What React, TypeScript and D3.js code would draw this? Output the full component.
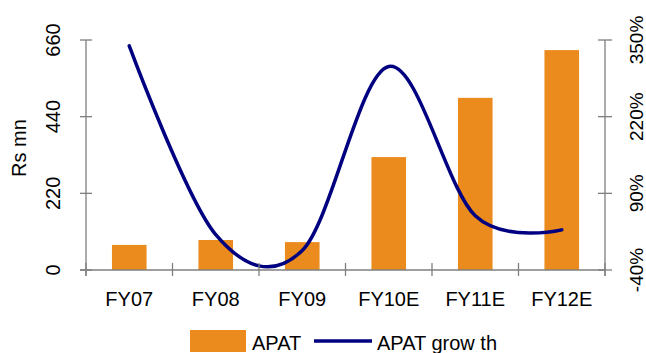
import React from "react";
import * as d3 from "d3";

const categories = ["FY07", "FY08", "FY09", "FY10E", "FY11E", "FY12E"];
const apat = [72, 86, 80, 324, 494, 631];
const apatGrowth = [340, 20, -7, 305, 52, 28];
const leftTicks = [0, 220, 440, 660];
const rightTicks = [-40, 90, 220, 350];

const W = 646;
const H = 353;
const M = { left: 86, right: 605, top: 40, bottom: 270 };
const FONT = "'Liberation Sans', Arial, sans-serif";
const AXIS = "#7f7f7f";

export default function App() {
  const x = d3
    .scaleBand<string>()
    .domain(categories)
    .range([M.left, M.right])
    .paddingInner(0.6)
    .paddingOuter(0.3);
  const step = (M.right - M.left) / categories.length;
  const yL = d3.scaleLinear().domain([0, 660]).range([M.bottom, M.top]);
  const yR = d3.scaleLinear().domain([-40, 350]).range([M.bottom, M.top]);

  const line = d3
    .line<number>()
    .x((_, i) => (x(categories[i]) as number) + x.bandwidth() / 2)
    .y((d) => yR(d))
    .curve(d3.curveCatmullRom.alpha(0));

  return (
    <svg
      width={W}
      height={H}
      style={{ position: "absolute", left: 0, top: 0, fontFamily: FONT }}
    >
      {/* bars */}
      {apat.map((v, i) => (
        <rect
          key={categories[i]}
          x={x(categories[i])}
          y={yL(v)}
          width={x.bandwidth()}
          height={yL(0) - yL(v)}
          fill="#EB8A1D"
        />
      ))}
      {/* growth line */}
      <path
        d={line(apatGrowth) || ""}
        fill="none"
        stroke="#000080"
        strokeWidth={3.5}
        strokeLinejoin="round"
        strokeLinecap="round"
      />
      {/* axes */}
      <line x1={M.left} x2={M.left} y1={M.top} y2={M.bottom + 6} stroke={AXIS} strokeWidth={1.3} />
      <line x1={M.right} x2={M.right} y1={M.top} y2={M.bottom + 6} stroke={AXIS} strokeWidth={1.3} />
      <line x1={M.left - 6} x2={M.right} y1={M.bottom} y2={M.bottom} stroke={AXIS} strokeWidth={1.3} />
      {leftTicks.map((t) => (
        <g key={"l" + t}>
          <line x1={M.left - 6} x2={M.left + 6} y1={yL(t)} y2={yL(t)} stroke={AXIS} strokeWidth={1.3} />
          <text
            transform={`translate(60,${yL(t)}) rotate(-90)`}
            textAnchor="middle"
            fontSize={20}
            fill="#000"
          >
            {t}
          </text>
        </g>
      ))}
      {rightTicks.map((t) => (
        <g key={"r" + t}>
          <line x1={M.right - 7} x2={M.right + 7} y1={yR(t)} y2={yR(t)} stroke={AXIS} strokeWidth={1.3} />
          <text
            transform={`translate(643,${yR(t)}) rotate(-90)`}
            textAnchor="middle"
            fontSize={19}
            fill="#000"
          >
            {t + "%"}
          </text>
        </g>
      ))}
      {d3.range(categories.length + 1).map((i) => (
        <line
          key={"c" + i}
          x1={M.left + i * step}
          x2={M.left + i * step}
          y1={M.bottom - 7}
          y2={M.bottom + 6}
          stroke={AXIS}
          strokeWidth={1.3}
        />
      ))}
      {categories.map((c) => (
        <text
          key={"t" + c}
          x={(x(c) as number) + x.bandwidth() / 2}
          y={306}
          textAnchor="middle"
          fontSize={20}
          fill="#000"
        >
          {c}
        </text>
      ))}
      <text
        transform={`translate(26,148) rotate(-90)`}
        textAnchor="middle"
        fontSize={20}
        fill="#000"
      >
        Rs mn
      </text>
      {/* legend */}
      <rect x={190} y={330} width={56} height={22} fill="#EB8A1D" />
      <text x={252} y={350} fontSize={20} fill="#000">APAT</text>
      <line x1={314} x2={372} y1={341} y2={341} stroke="#000080" strokeWidth={3.5} />
      <text x={377} y={350} fontSize={20} fill="#000">APAT grow th</text>
    </svg>
  );
}
